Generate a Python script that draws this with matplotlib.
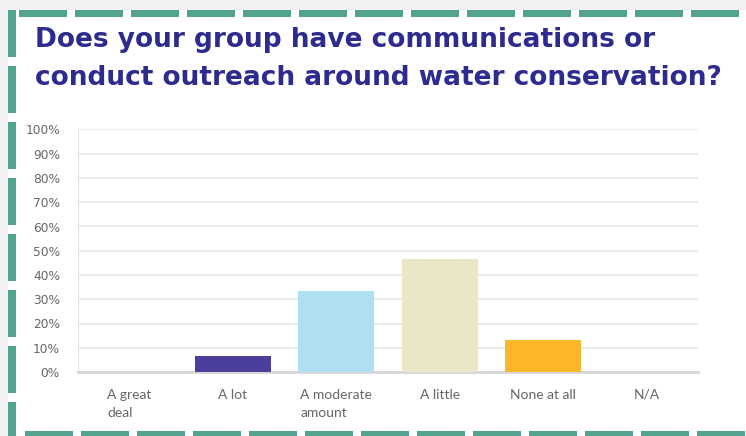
import matplotlib.pyplot as plt
from matplotlib.patches import Rectangle

# survey answers (share of respondents, %)
categories = ["A great\ndeal", "A lot", "A moderate\namount", "A little", "None at all", "N/A"]
shares = [0.0, 6.67, 33.33, 46.67, 13.33, 0.0]
bar_colors = ["#4b3f9c", "#4b3f9c", "#aedff2", "#eae6c7", "#fdb52a", "#cccccc"]
yticks = list(range(0, 101, 10))
ytick_labels = [f"{v}%" for v in yticks]

title = "Does your group have communications or\nconduct outreach around water conservation?"

W, H = 746, 436
fig = plt.figure(figsize=(W / 100, H / 100), dpi=100, facecolor="#f2f2f2")


def px_rect(x, y, w, h, color):
    # rectangle given in pixel coords with y measured from the top
    fig.patches.append(Rectangle((x / W, 1 - (y + h) / H), w / W, h / H,
                                 transform=fig.transFigure, color=color,
                                 linewidth=0, zorder=-1))


# white card with dashed green frame
px_rect(8, 10, W, H, "white")
green = "#52a48f"
y = 10
while y < H:
    px_rect(8, y, 8, 47, green)
    y += 56
x = 19
while x < W:
    px_rect(x, 10, 48, 7, green)
    x += 56
x = 25
while x < W:
    px_rect(x, 431, 48, 6, green)
    x += 56

fig.text(35 / W, 1 - 27 / H, title, color="#2e2b8f", fontsize=19,
         fontweight="bold", family="DejaVu Sans", va="top", ha="left",
         linespacing=1.6)

ax = fig.add_axes([78 / W, 64 / H, 620 / W, 242.5 / H])
ax.set_facecolor("white")
xs = range(len(categories))
ax.bar(xs, shares, width=0.735, color=bar_colors, zorder=3)
ax.set_xlim(-0.5, len(categories) - 0.5)
ax.set_ylim(0, 100)
ax.set_yticks(yticks)
ax.set_yticklabels(ytick_labels, family="DejaVu Sans")
ax.set_xticks(list(xs))
ax.set_xticklabels(categories, multialignment="left", linespacing=1.65,
                   family="Lato")
ax.grid(axis="y", color="#ececec", linewidth=1.5, zorder=0)
ax.tick_params(axis="y", length=0, pad=13, labelsize=8.8, labelcolor="#666666")
ax.tick_params(axis="x", length=0, pad=12, labelsize=10, labelcolor="#666666")
for side in ["top", "right"]:
    ax.spines[side].set_visible(False)
ax.spines["left"].set_color("#e4e4e4")
ax.spines["bottom"].set_color("#d6d6d6")
ax.spines["bottom"].set_linewidth(2)

fig.savefig("out.png", dpi=100, facecolor=fig.get_facecolor())
